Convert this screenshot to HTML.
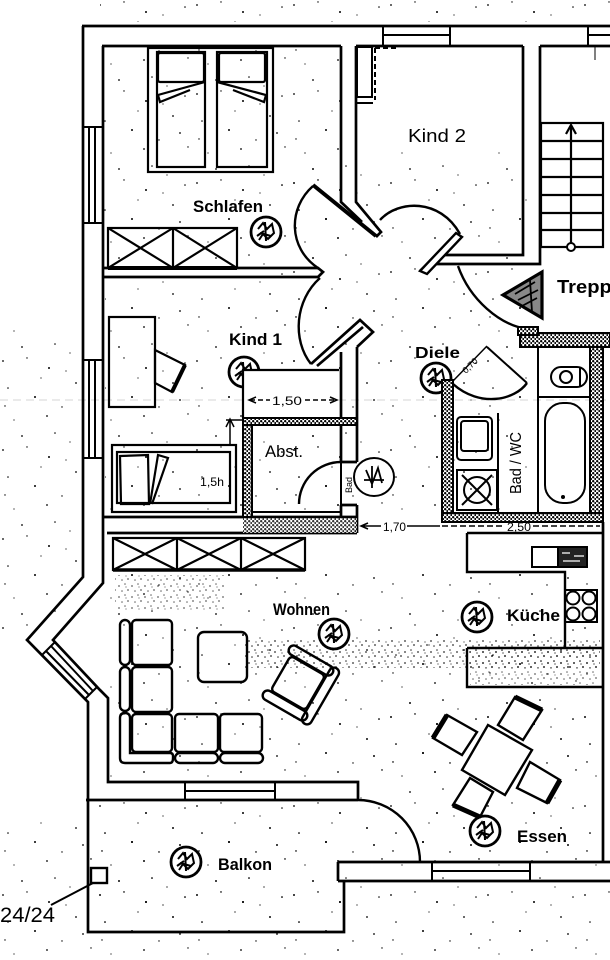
<!DOCTYPE html>
<html><head><meta charset="utf-8">
<style>
html,body{margin:0;padding:0;background:#fff;}
svg{display:block;}
text{font-family:"Liberation Sans",sans-serif;fill:#000;}
</style></head><body>
<svg width="610" height="960" viewBox="0 0 610 960" xmlns="http://www.w3.org/2000/svg">
<defs>
<pattern id="sp" width="97" height="89" patternUnits="userSpaceOnUse">
<circle cx="3" cy="5" r="0.9"/><circle cx="27" cy="2" r="0.7"/><circle cx="49" cy="12" r="1"/><circle cx="8" cy="32" r="0.8"/><circle cx="76" cy="27" r="0.9"/><circle cx="62" cy="51" r="0.7"/><circle cx="14" cy="64" r="0.6"/>
<circle cx="88" cy="7" r="0.8"/><circle cx="35" cy="41" r="1"/><circle cx="91" cy="58" r="0.7"/><circle cx="22" cy="80" r="0.9"/><circle cx="55" cy="77" r="0.8"/><circle cx="70" cy="86" r="0.6"/><circle cx="41" cy="22" r="0.6"/><circle cx="83" cy="44" r="0.9"/><circle cx="5" cy="50" r="0.7"/><circle cx="47" cy="60" r="0.9"/><circle cx="66" cy="15" r="0.6"/>
</pattern>
<pattern id="sd" width="13" height="11" patternUnits="userSpaceOnUse">
<circle cx="2" cy="3" r="0.9"/><circle cx="8" cy="1" r="0.8"/><circle cx="11" cy="7" r="0.9"/><circle cx="5" cy="8" r="0.8"/><circle cx="9" cy="4" r="0.6"/>
</pattern>
<pattern id="hw" width="4" height="4" patternUnits="userSpaceOnUse">
<rect width="4" height="4" fill="#fff"/><circle cx="1.2" cy="1.2" r="1.2"/><circle cx="3.2" cy="3" r="1"/>
</pattern>
<g id="sym">
<circle r="15" fill="#fff" stroke="#000" stroke-width="2.8"/>
<path d="M-8,-3 L-3,-9 L1,-3 L6,-8 L8,1 L2,7 L-3,2 L-7,8 M-6,1 L5,4 M-1,-10 L0,9 M-9,4 L-2,-1" fill="none" stroke="#000" stroke-width="2"/>
</g>
</defs>
<rect width="610" height="960" fill="#fff"/>

<!-- speckle -->
<rect x="100" y="0" width="510" height="22" fill="url(#sp)"/>
<rect x="104" y="48" width="236" height="218" fill="url(#sp)"/>
<rect x="280" y="150" width="250" height="370" fill="url(#sp)"/>
<rect x="105" y="280" width="235" height="235" fill="url(#sp)"/>
<rect x="108" y="572" width="495" height="210" fill="url(#sp)"/>
<rect x="358" y="690" width="245" height="170" fill="url(#sp)"/>
<rect x="88" y="802" width="255" height="128" fill="url(#sp)"/>
<rect x="0" y="330" width="80" height="300" fill="url(#sp)"/>
<rect x="0" y="820" width="610" height="140" fill="url(#sp)"/>
<rect x="245" y="640" width="355" height="28" fill="url(#sd)" opacity="0.8"/>
<rect x="115" y="575" width="110" height="35" fill="url(#sd)" opacity="0.6"/>
<rect x="470" y="650" width="128" height="35" fill="url(#sd)" opacity="0.6"/>
<line x1="0" y1="400" x2="610" y2="400" stroke="#d6d6d6" stroke-width="1" stroke-dasharray="8 5"/>

<!-- walls -->
<g fill="none" stroke="#000" stroke-width="2.7">
<path d="M82,26 H610"/>
<path d="M83,26 V577 L27,640 L88,702 V932 H344 V881"/>
<path d="M338,862 H610 M338,881 H610 M338,862 V881"/>
<path d="M603,522 V862"/>
<path d="M102,46 H341 M356,46 H523 M540,46 H610"/>
<path d="M103,46 V583 L53,640 L100,690 L108,698 V782 H358 V800 M86,800 H358"/>
<path d="M341,46 V202 L362,222 M356,46 V202 L381,232 L376,237"/>
<path d="M313,185 L376,236" stroke-width="4"/>
<path d="M103,268 H318 L323,272 L318,277 H103"/>
<path d="M523,46 V255 H437 L420,271"/>
<path d="M540,46 V264 H432"/>
<path d="M311,364 L360,320 L373,332 L357,347"/>
<path d="M317,366 L363,327"/>
<path d="M341,352 V462 M341,505 V517 M357,347 V462 M357,505 V533 M341,462 H357 M341,505 H357"/>
<path d="M103,517 H357 M107,533 H357"/>
</g>
<rect x="243" y="518" width="114" height="15" fill="url(#hw)" opacity="0.8"/>

<!-- windows -->
<g fill="none" stroke="#000" stroke-width="2">
<path d="M383,26 V46 M450,26 V46 M588,26 V46 M383,35 H450 M588,35 H610"/>
<path d="M83,127 H103 M83,223 H103 M89,127 V223 M95,127 V223"/>
<path d="M83,360 H103 M83,458 H103 M89,360 V458 M95,360 V458"/>
<path d="M42,655 L55,642 M85,699 L97,687 M46,651 L89,695 M51,646 L93,691"/>
<path d="M185,782 V800 M275,782 V800 M185,791 H275"/>
<path d="M432,862 V881 M530,862 V881 M432,871 H530"/>
</g>

<!-- door arcs -->
<g fill="none" stroke="#000" stroke-width="2.4">
<path d="M313,186 C288,208 288,248 318,268"/>
<path d="M380,220 C398,200 440,198 460,234"/>
<path d="M320,278 C295,300 292,340 311,364"/>
<path d="M458,266 C470,300 500,325 527,329"/>
<path d="M341,462 A42,42 0 0 0 299,504"/>
<path d="M341,462 V505" stroke-width="2"/>
<path d="M358,800 A62,62 0 0 1 420,862"/>
<path d="M487,347 L527,383" stroke-width="2"/>
<path d="M527,383 C515,400 480,408 453,384"/>
<path d="M453,381 L487,346" stroke-width="1.5"/>
</g>
<path d="M420,271 L456,233 L462,237 L427,274 Z" fill="#fff" stroke="#000" stroke-width="2.4"/>

<!-- Kind 2 cabinet -->
<g fill="none" stroke="#000" stroke-width="2">
<rect x="357" y="47" width="15" height="50"/>
<path d="M357,103 H373"/>
<path d="M375,48 V100 M375,48 H398" stroke-dasharray="5 3"/>
</g>

<!-- stairs -->
<g fill="none" stroke="#000" stroke-width="2.2">
<rect x="541" y="123" width="62" height="124"/>
<path d="M541,141 H603 M541,159 H603 M541,177 H603 M541,195 H603 M541,213 H603 M541,230 H603"/>
<path d="M571,247 V127 M566,134 L571,125 L576,134"/>
<path d="M595,46 V60" stroke-width="1"/>
</g>
<circle cx="571" cy="247" r="4" fill="#fff" stroke="#000" stroke-width="2"/>
<polygon points="503,295 542,272 542,318" fill="#888" stroke="#000" stroke-width="3.2"/>
<path d="M515,294 L535,282 M518,300 L538,290 M522,306 L537,298 M530,280 L532,312" stroke="#000" stroke-width="1.8" fill="none"/>

<!-- Schlafen bed -->
<g fill="none" stroke="#000" stroke-width="2.2">
<rect x="148" y="48" width="125" height="124"/>
<rect x="157" y="52" width="48" height="115"/>
<rect x="217" y="52" width="50" height="115"/>
<rect x="158" y="53" width="46" height="29" rx="2"/>
<rect x="219" y="53" width="46" height="29" rx="2"/>
<path d="M205,82 L158,95 L160,102 L190,90 M217,82 L266,95 L264,102 L233,90"/>
<rect x="108" y="228" width="129" height="40"/>
<path d="M173,228 V268 M108,228 L173,268 M173,228 L108,268 M173,228 L237,268 M237,228 L173,268"/>
<path d="M108,268 H237" stroke-width="4"/>
<rect x="109" y="317" width="46" height="90"/>
<polygon points="155,350 185,365 172,392 155,383"/>
<path d="M185,365 L172,392" stroke-width="4"/>
<rect x="112" y="445" width="124" height="67"/>
<rect x="117" y="452" width="113" height="51"/>
<path d="M120,456 L148,455 L149,504 L121,504 Z"/>
<path d="M150,504 L158,455 L168,458 L152,504"/>
<path d="M230,445 V420 M226,427 L230,419 L234,427 M226,420 H243" stroke-width="1.5"/>
</g>
<text x="200" y="486" font-size="12" textLength="24" lengthAdjust="spacingAndGlyphs">1,5h</text>

<!-- symbols -->
<use href="#sym" x="266" y="232"/>
<use href="#sym" x="244" y="372"/>
<use href="#sym" x="436" y="378"/>
<use href="#sym" x="334" y="634"/>
<use href="#sym" x="477" y="617"/>
<use href="#sym" x="485" y="831"/>
<use href="#sym" x="186" y="862"/>

<!-- Abst -->
<path d="M243,418 V370 H339 V418 Z" fill="#fff" stroke="none"/>
<path d="M243,418 V370 H339" fill="none" stroke="#000" stroke-width="2.2"/>
<path d="M250,400 H270 M305,400 H336" stroke="#000" stroke-width="1.5" stroke-dasharray="5 3"/>
<path d="M256,397 L249,400 L256,403 M330,397 L337,400 L330,403" fill="none" stroke="#000" stroke-width="1.5"/>
<text x="272" y="405" font-size="12" textLength="30" lengthAdjust="spacingAndGlyphs">1,50</text>
<rect x="243" y="418" width="9" height="99" fill="url(#hw)" stroke="#000" stroke-width="2"/>
<rect x="243" y="418" width="114" height="7" fill="url(#hw)" stroke="#000" stroke-width="2"/>
<path d="M252,512 H341" stroke="#000" stroke-width="2"/>
<ellipse cx="374" cy="477" rx="20" ry="19" fill="#fff" stroke="#000" stroke-width="2"/>
<path d="M366,470 L372,484 L378,468 L382,483 M364,480 H384 M372,466 V488" fill="none" stroke="#000" stroke-width="1.8"/>
<text transform="translate(352,493) rotate(-90)" font-size="9">Bad</text>

<!-- Bath -->
<g stroke="#000" stroke-width="2">
<rect x="520" y="333" width="90" height="14" fill="url(#hw)"/>
<rect x="590" y="347" width="13" height="175" fill="url(#hw)"/>
<rect x="442" y="513" width="161" height="9" fill="url(#hw)"/>
<rect x="442" y="380" width="11" height="133" fill="url(#hw)"/>
<rect x="518" y="327" width="20" height="8" fill="url(#hw)"/>
</g>
<g fill="none" stroke="#000" stroke-width="2">
<path d="M538,347 V513 M538,397 H590 M498,413 V513"/>
<rect x="551" y="367" width="36" height="20" rx="10"/>
<circle cx="566" cy="377" r="6"/>
<path d="M580,368 V386"/>
<rect x="545" y="403" width="40" height="100" rx="18"/>
<rect x="457" y="417" width="35" height="43" rx="4"/>
<rect x="461" y="421" width="27" height="30" rx="3"/>
<rect x="457" y="470" width="40" height="40"/>
<circle cx="477" cy="490" r="13"/>
<path d="M462,475 L492,505 M492,475 L462,505"/>
</g>
<circle cx="563" cy="497" r="2"/>
<text transform="translate(521,463) rotate(-90)" text-anchor="middle" font-size="16" textLength="62" lengthAdjust="spacingAndGlyphs">Bad / WC</text>
<text transform="translate(466,374) rotate(-45)" font-size="9">0,70</text>

<!-- dimension line -->
<g fill="none" stroke="#000" stroke-width="1.5">
<path d="M362,526 H381 M407,526 H440 M368,523 L361,526 L368,529"/>
<path d="M442,526 H505 M533,526 H600" stroke-dasharray="6 3"/>
</g>
<text x="383" y="531" font-size="12" textLength="23" lengthAdjust="spacingAndGlyphs">1,70</text>
<text x="507" y="531" font-size="12" textLength="24" lengthAdjust="spacingAndGlyphs">2,50</text>

<!-- Wohnen wardrobe -->
<g fill="none" stroke="#000" stroke-width="2.2">
<rect x="113" y="538" width="192" height="32"/>
<path d="M177,538 V570 M241,538 V570"/>
<path d="M113,538 L177,570 M177,538 L113,570 M177,538 L241,570 M241,538 L177,570 M241,538 L305,570 M305,538 L241,570"/>
<path d="M113,570 H305" stroke-width="3.5"/>
</g>

<!-- Sofa -->
<g fill="none" stroke="#000" stroke-width="2.4">
<rect x="120" y="620" width="10" height="45" rx="5"/>
<rect x="120" y="667" width="10" height="44" rx="5"/>
<path d="M125,713 Q120,713 120,718 V758 Q120,763 125,763 H170 Q173,763 173,758 V756 Q173,753 170,753 H130 V718 Q130,713 125,713 Z"/>
<rect x="175" y="753" width="43" height="10" rx="5"/>
<rect x="220" y="753" width="43" height="10" rx="5"/>
<rect x="132" y="620" width="40" height="45" rx="4"/>
<rect x="132" y="667" width="40" height="45" rx="4"/>
<rect x="132" y="714" width="40" height="38" rx="4"/>
<rect x="175" y="714" width="43" height="38" rx="4"/>
<rect x="220" y="714" width="42" height="38" rx="4"/>
<rect x="198" y="632" width="49" height="50" rx="6"/>
<g transform="translate(298,683) rotate(30)">
<rect x="-20" y="-20" width="40" height="40" rx="4"/>
<rect x="-25" y="-31" width="50" height="10" rx="5"/>
<rect x="-25" y="21" width="50" height="10" rx="5"/>
<rect x="21" y="-32" width="10" height="64" rx="5"/>
</g>
</g>

<!-- Kitchen -->
<g fill="none" stroke="#000" stroke-width="2.4">
<path d="M467,533 V572 H565 V648 M467,533 H603"/>
<path d="M467,648 V687 H603 M467,648 H603"/>
<rect x="532" y="547" width="26" height="20" stroke-width="2"/>
<rect x="565" y="590" width="32" height="32" stroke-width="2"/>
<circle cx="573" cy="598" r="6.5" stroke-width="2"/>
<circle cx="589" cy="598" r="6.5" stroke-width="2"/>
<circle cx="573" cy="614" r="6.5" stroke-width="2"/>
<circle cx="589" cy="614" r="6.5" stroke-width="2"/>
</g>
<rect x="558" y="547" width="29" height="20" fill="#222" stroke="#000" stroke-width="2"/>
<path d="M562,553 H570 M574,556 H584 M563,561 H580" stroke="#fff" stroke-width="1.2"/>

<!-- Dining -->
<g fill="#fff" stroke="#000" stroke-width="2.4">
<polygon points="488,725 532,750 505,795 462,770"/>
<polygon points="515,697 542,710 523,740 498,725"/>
<polygon points="447,715 477,732 462,755 433,738"/>
<polygon points="530,762 560,780 547,803 517,788"/>
<polygon points="470,778 493,792 480,817 453,805"/>
</g>
<path d="M515,697 L542,710 M447,715 L433,738 M560,780 L547,803 M453,805 L480,817" stroke="#000" stroke-width="5"/>

<!-- Balcony -->
<rect x="91" y="868" width="16" height="15" fill="none" stroke="#000" stroke-width="2.4"/>
<path d="M93,883 L51,905" stroke="#000" stroke-width="2"/>

<!-- labels -->
<text x="193" y="212" font-size="17" font-weight="bold" textLength="70" lengthAdjust="spacingAndGlyphs">Schlafen</text>
<text x="408" y="142" font-size="18" textLength="58" lengthAdjust="spacingAndGlyphs">Kind 2</text>
<text x="229" y="345" font-size="17" font-weight="bold" textLength="53" lengthAdjust="spacingAndGlyphs">Kind 1</text>
<text x="415" y="358" font-size="16" font-weight="bold" textLength="45" lengthAdjust="spacingAndGlyphs">Diele</text>
<text x="557" y="293" font-size="18" font-weight="bold" textLength="66" lengthAdjust="spacingAndGlyphs">Treppe</text>
<text x="265" y="457" font-size="17" textLength="38" lengthAdjust="spacingAndGlyphs">Abst.</text>
<text x="273" y="615" font-size="17" font-weight="bold" textLength="57" lengthAdjust="spacingAndGlyphs">Wohnen</text>
<text x="507" y="621" font-size="17" font-weight="bold" textLength="53" lengthAdjust="spacingAndGlyphs">Küche</text>
<text x="517" y="842" font-size="17" font-weight="bold" textLength="50" lengthAdjust="spacingAndGlyphs">Essen</text>
<text x="218" y="870" font-size="17" font-weight="bold" textLength="54" lengthAdjust="spacingAndGlyphs">Balkon</text>
<text x="0" y="922" font-size="21" textLength="55" lengthAdjust="spacingAndGlyphs">24/24</text>
</svg>
</body></html>
